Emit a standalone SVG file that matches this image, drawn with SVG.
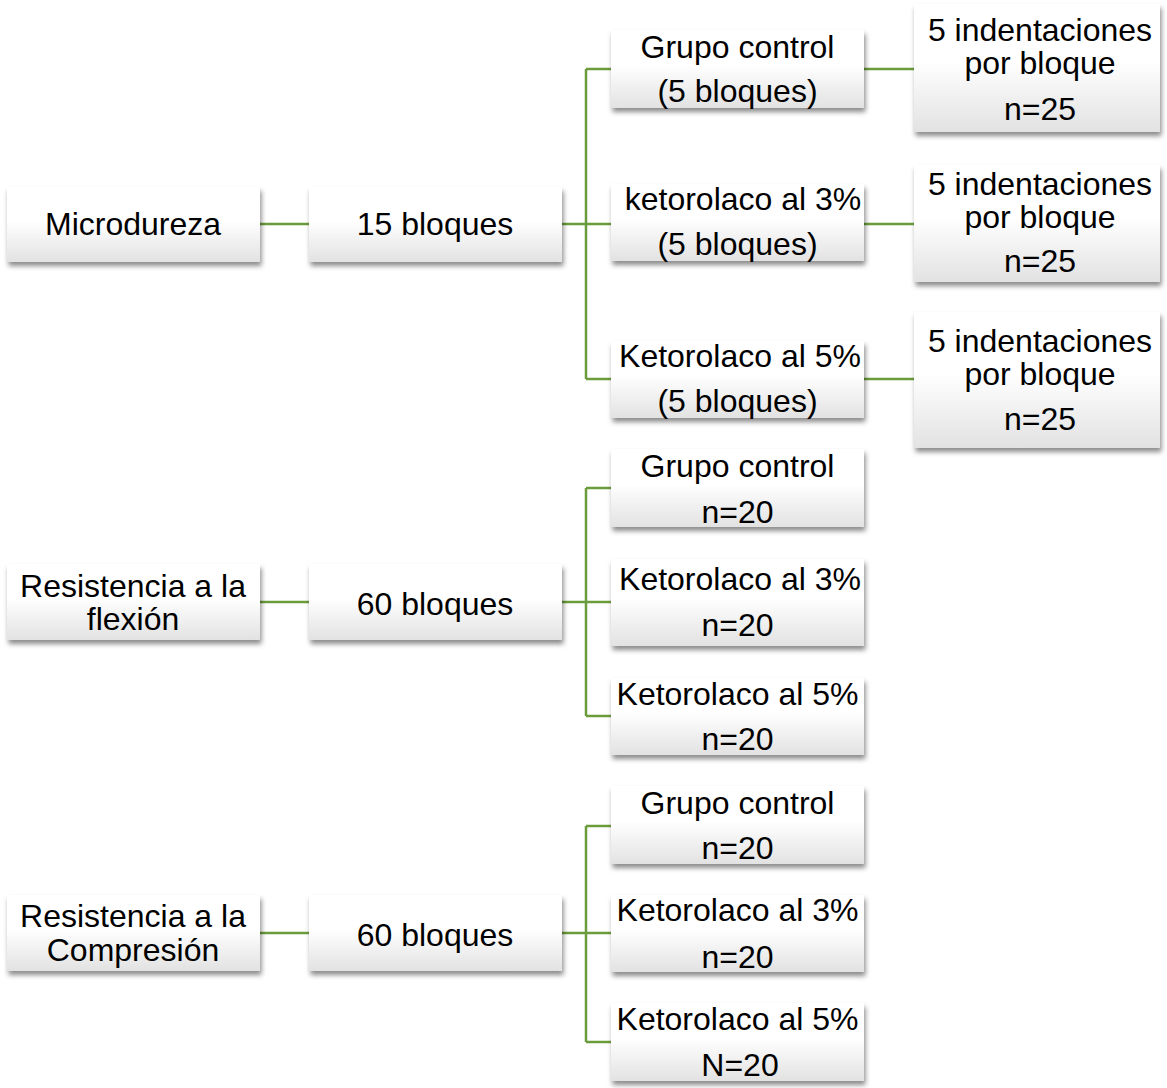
<svg xmlns="http://www.w3.org/2000/svg" width="1167" height="1088" viewBox="0 0 1167 1088">
<defs>
<linearGradient id="g" x1="0" y1="0" x2="0" y2="1">
<stop offset="0" stop-color="#ffffff"/>
<stop offset="0.45" stop-color="#ffffff"/>
<stop offset="1" stop-color="#e2e2e2"/>
</linearGradient>
<filter id="sh" x="-10%" y="-10%" width="125%" height="135%">
<feDropShadow dx="1.5" dy="4" stdDeviation="2.5" flood-color="#000" flood-opacity="0.45"/>
</filter>
</defs>
<style>
.b{fill:url(#g);filter:url(#sh)}
text{font-family:"Liberation Sans",Arial,sans-serif;font-size:32px;fill:#000;text-anchor:middle}
.c{stroke:#6b9c3c;stroke-width:2.5;fill:none}
</style>
<rect width="1167" height="1088" fill="#fff"/>
<g id="connectors" class="c">
<path d="M260 224H309M562 224H586M586 69V379M586 69H611M586 224H611M586 379H611M864 69H914M864 224H914M864 379H914"/>
<path d="M260 602H309M562 602H586M586 488V716M586 488H611M586 602H611M586 716H611"/>
<path d="M260 933H309M562 933H586M586 826V1042M586 826H611M586 933H611M586 1042H611"/>
</g>
<g transform="translate(0,1.5)">
<g id="microdureza"><rect class="b" x="7" y="185.5" width="253" height="75"/><text x="133" y="233">Microdureza</text></g>
<g id="b15"><rect class="b" x="309" y="185.5" width="253" height="75"/><text x="435" y="233">15 bloques</text></g>
<g id="gc1"><rect class="b" x="611" y="28.5" width="253" height="78"/><text x="737.5" y="56">Grupo control</text><text x="737.5" y="100">(5 bloques)</text></g>
<g id="k3a"><rect class="b" x="611" y="182.5" width="253" height="77"/><text x="743" y="208">ketorolaco al 3%</text><text x="737.5" y="253">(5 bloques)</text></g>
<g id="k5a"><rect class="b" x="611" y="339.5" width="253" height="77"/><text x="740" y="365">Ketorolaco al 5%</text><text x="737.5" y="410">(5 bloques)</text></g>
<g id="ind1"><rect class="b" x="914" y="2.5" width="246" height="128"/><text x="1040" y="39">5 indentaciones</text><text x="1040" y="72">por bloque</text><text x="1040" y="118">n=25</text></g>
<g id="ind2"><rect class="b" x="914" y="163.5" width="246" height="117"/><text x="1040" y="193">5 indentaciones</text><text x="1040" y="226">por bloque</text><text x="1040" y="270">n=25</text></g>
<g id="ind3"><rect class="b" x="914" y="310.5" width="246" height="136"/><text x="1040" y="350">5 indentaciones</text><text x="1040" y="383">por bloque</text><text x="1040" y="428">n=25</text></g>
<g id="flexion"><rect class="b" x="7" y="562.5" width="253" height="76"/><text x="133" y="595">Resistencia a la</text><text x="133" y="628">flexión</text></g>
<g id="b60a"><rect class="b" x="309" y="562.5" width="253" height="76"/><text x="435" y="613">60 bloques</text></g>
<g id="gc2"><rect class="b" x="611" y="447.5" width="253" height="78"/><text x="737.5" y="475">Grupo control</text><text x="737.5" y="521">n=20</text></g>
<g id="k3b"><rect class="b" x="611" y="557.5" width="253" height="87"/><text x="740" y="588">Ketorolaco al 3%</text><text x="737.5" y="634">n=20</text></g>
<g id="k5b"><rect class="b" x="611" y="676.5" width="253" height="77"/><text x="737.5" y="703">Ketorolaco al 5%</text><text x="737.5" y="748">n=20</text></g>
<g id="compresion"><rect class="b" x="7" y="893.5" width="253" height="76"/><text x="133" y="925">Resistencia a la</text><text x="133" y="959">Compresión</text></g>
<g id="b60b"><rect class="b" x="309" y="893.5" width="253" height="76"/><text x="435" y="944">60 bloques</text></g>
<g id="gc3"><rect class="b" x="611" y="784.5" width="253" height="78"/><text x="737.5" y="812">Grupo control</text><text x="737.5" y="857">n=20</text></g>
<g id="k3c"><rect class="b" x="611" y="893.5" width="253" height="77"/><text x="737.5" y="919">Ketorolaco al 3%</text><text x="737.5" y="966">n=20</text></g>
<g id="k5c"><rect class="b" x="611" y="1001.5" width="253" height="78"/><text x="737.5" y="1028">Ketorolaco al 5%</text><text x="740" y="1074">N=20</text></g>
</g>
</svg>
